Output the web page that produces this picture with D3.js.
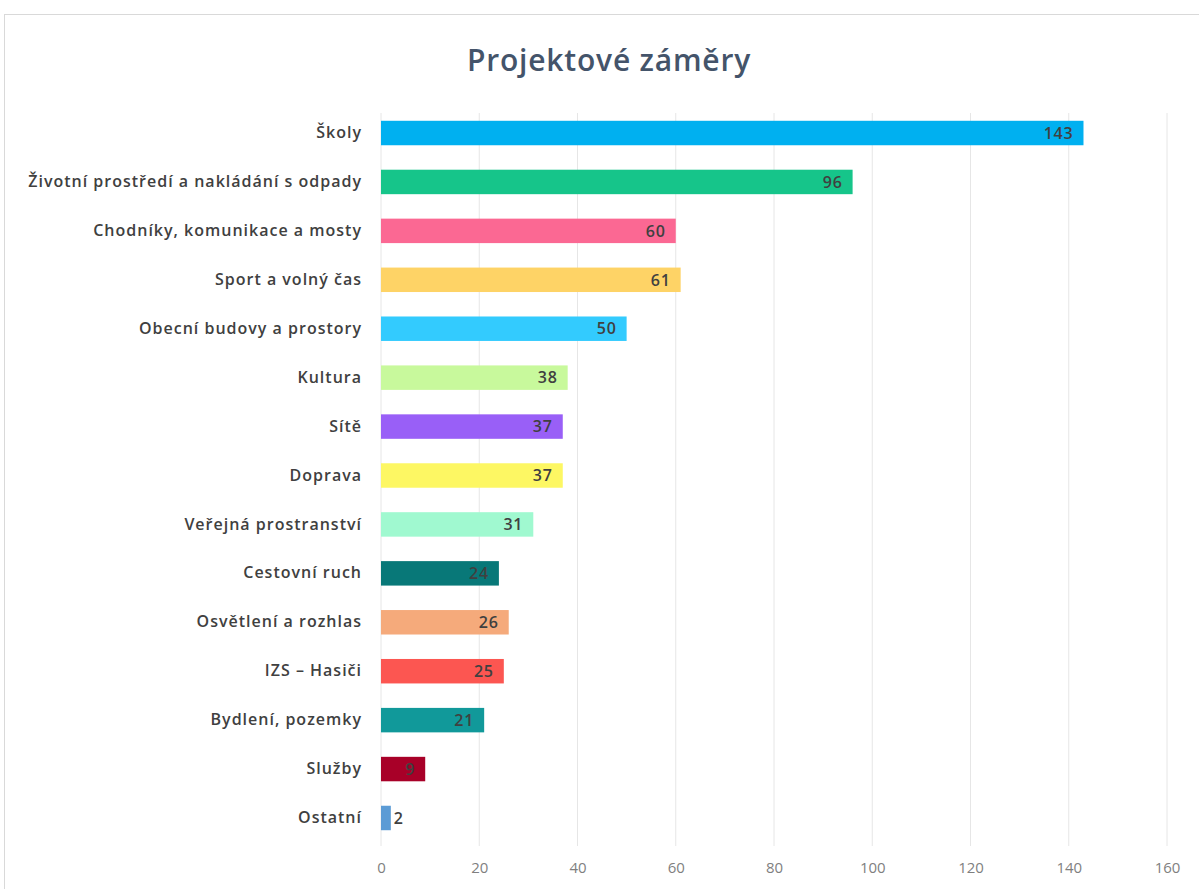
<!DOCTYPE html>
<html>
<head>
<meta charset="utf-8">
<script src="https://cdn.jsdelivr.net/npm/d3@7"></script>
<style>
  body { margin: 0; background: #fff; }
  svg { display: block; }
</style>
</head>
<body>
<svg id="chart" width="1199" height="889"></svg>
<script>
const categories = [
  "Školy", "Životní prostředí a nakládání s odpady", "Chodníky, komunikace a mosty",
  "Sport a volný čas", "Obecní budovy a prostory", "Kultura", "Sítě", "Doprava",
  "Veřejná prostranství", "Cestovní ruch", "Osvětlení a rozhlas", "IZS – Hasiči",
  "Bydlení, pozemky", "Služby", "Ostatní"
];
const values = [143, 96, 60, 61, 50, 38, 37, 37, 31, 24, 26, 25, 21, 9, 2];
const colors = [
  "#00b0f0", "#16c58a", "#fb6893", "#fed366", "#33cbfe", "#c8f99c", "#995ff7", "#fdf763",
  "#a0f9d0", "#087878", "#f5aa7b", "#fc5651", "#11999a", "#a80028", "#5b9bd5"
];
const xTicks = [0, 20, 40, 60, 80, 100, 120, 140, 160];

const svg = d3.select("#chart");
const width = 1199, height = 889;
const margin = { top: 111, right: 32, bottom: 49, left: 381 };
const axisY = 846;

// chart frame
svg.append("rect")
  .attr("x", 4.5).attr("y", 14.5)
  .attr("width", width).attr("height", height)
  .attr("fill", "#fff").attr("stroke", "#d9d9d9");

svg.append("text")
  .attr("x", 609).attr("y", 71)
  .attr("text-anchor", "middle")
  .attr("font-family", "Open Sans, sans-serif")
  .attr("font-weight", 600)
  .attr("font-size", 30)
  .attr("letter-spacing", 0.8)
  .attr("fill", "#44546a")
  .text("Projektové záměry");

const x = d3.scaleLinear()
  .domain([0, 160])
  .range([margin.left, width - margin.right]);

const y = d3.scaleBand()
  .domain(categories)
  .range([margin.top, height - margin.bottom])
  .paddingInner(0.5)
  .paddingOuter(0.2);

// gridlines
svg.append("g")
  .selectAll("line")
  .data(xTicks)
  .join("line")
  .attr("x1", d => x(d)).attr("x2", d => x(d))
  .attr("y1", 113).attr("y2", axisY)
  .attr("stroke", "#e6e6e6");

const xAxis = svg.append("g")
  .attr("transform", `translate(0,${axisY})`)
  .call(d3.axisBottom(x).tickValues(xTicks).tickSize(0).tickPadding(16));
xAxis.select(".domain").remove();
xAxis.selectAll("text")
  .attr("font-family", "Liberation Sans Narrow, Open Sans, sans-serif")
  .attr("font-size", 15)
  .attr("fill", "#7f7f7f");

const yAxis = svg.append("g")
  .attr("transform", `translate(${margin.left},0)`)
  .call(d3.axisLeft(y).tickSize(0).tickPadding(19));
yAxis.select(".domain").remove();
yAxis.selectAll("text")
  .attr("font-family", "Open Sans, sans-serif")
  .attr("font-weight", 600)
  .attr("font-size", 16)
  .attr("letter-spacing", 1)
  .attr("fill", "#404040");

svg.append("g")
  .selectAll("rect")
  .data(values)
  .join("rect")
  .attr("x", x(0))
  .attr("y", (d, i) => y(categories[i]))
  .attr("width", d => x(d) - x(0))
  .attr("height", y.bandwidth())
  .attr("fill", (d, i) => colors[i]);

svg.append("g")
  .selectAll("text")
  .data(values)
  .join("text")
  .attr("x", d => (x(d) - x(0) > 30 ? x(d) - 10 : x(d) + 3))
  .attr("y", (d, i) => y(categories[i]) + y.bandwidth() / 2)
  .attr("dy", "0.36em")
  .attr("text-anchor", d => (x(d) - x(0) > 30 ? "end" : "start"))
  .attr("font-family", "Open Sans, sans-serif")
  .attr("font-weight", 600)
  .attr("font-size", 16)
  .attr("letter-spacing", 0.8)
  .attr("fill", "#404040")
  .text(d => d);
</script>
</body>
</html>
